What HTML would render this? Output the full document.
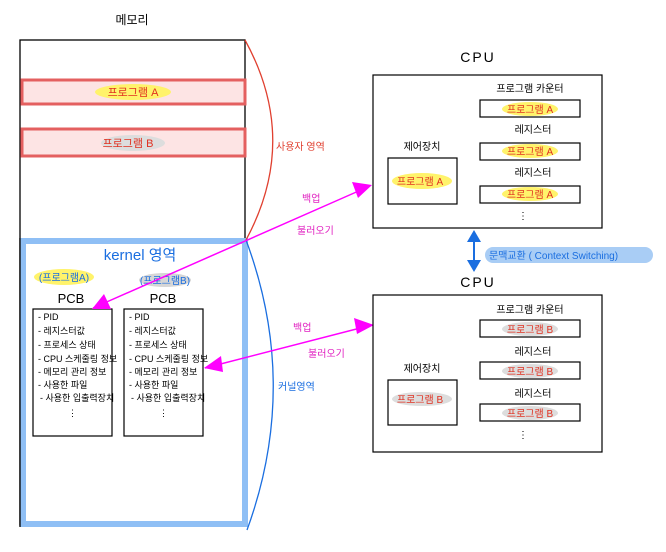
<!DOCTYPE html>
<html><head><meta charset="utf-8"><style>
html,body{margin:0;padding:0;background:#fff;}
svg{display:block;}
text{font-family:"Liberation Sans","Noto Sans CJK KR",sans-serif;}
</style></head><body>
<svg width="666" height="552" viewBox="0 0 666 552" xmlns="http://www.w3.org/2000/svg">
<rect width="666" height="552" fill="#fff"/>
<text x="132" y="24" font-size="12" text-anchor="middle">메모리</text>
<rect x="20" y="40" width="225" height="485" fill="none" stroke="#000" stroke-width="1.3"/>
<rect x="22" y="80" width="223" height="24" fill="#fde4e4" stroke="#e46060" stroke-width="3"/>
<ellipse cx="133" cy="92" rx="38" ry="8" fill="#fff36b"/>
<text x="133" y="96" font-size="11" fill="#e03020" text-anchor="middle">프로그램 A</text>
<rect x="22" y="129" width="223" height="27" fill="#fde4e4" stroke="#e46060" stroke-width="3"/>
<ellipse cx="133" cy="143" rx="32" ry="8" fill="#ddd"/>
<text x="128" y="147" font-size="11" fill="#e03020" text-anchor="middle">프로그램 B</text>
<rect x="23" y="241" width="222" height="283" fill="#fff" stroke="#8fbff5" stroke-width="6"/>
<line x1="20" y1="238" x2="20" y2="527" stroke="#000" stroke-width="1.3"/>
<text x="140" y="260" font-size="15" fill="#1a6ee0" text-anchor="middle">kernel  영역</text>
<ellipse cx="64" cy="277" rx="30" ry="8" fill="#fff36b"/>
<text x="64" y="281" font-size="10" fill="#1a6ee0" text-anchor="middle">(프로그램A)</text>
<ellipse cx="165" cy="280" rx="26" ry="7" fill="#d6d6d6"/>
<text x="165" y="284" font-size="10" fill="#1a6ee0" text-anchor="middle">(프로그램B)</text>
<text x="71" y="303" font-size="13" text-anchor="middle">PCB</text>
<text x="163" y="303" font-size="13" text-anchor="middle">PCB</text>
<g font-size="9">
<rect x="33" y="309" width="79" height="127" fill="#fff" stroke="#000" stroke-width="1.2"/>
<rect x="124" y="309" width="79" height="127" fill="#fff" stroke="#000" stroke-width="1.2"/>
<g transform="translate(38,0)">
<text x="0" y="320">- PID</text><text x="0" y="334">- 레지스터값</text><text x="0" y="348">- 프로세스 상태</text><text x="0" y="362">- CPU 스케줄링 정보</text><text x="0" y="375">- 메모리 관리 정보</text><text x="0" y="388">- 사용한 파일</text><text x="2" y="401">- 사용한 입출력장치</text><text x="30" y="416">⋮</text>
</g>
<g transform="translate(129,0)">
<text x="0" y="320">- PID</text><text x="0" y="334">- 레지스터값</text><text x="0" y="348">- 프로세스 상태</text><text x="0" y="362">- CPU 스케줄링 정보</text><text x="0" y="375">- 메모리 관리 정보</text><text x="0" y="388">- 사용한 파일</text><text x="2" y="401">- 사용한 입출력장치</text><text x="30" y="416">⋮</text>
</g>
</g>
<path d="M245,40 Q300,140 246,240" fill="none" stroke="#e04030" stroke-width="1.3"/>
<path d="M246,240 Q300,385 247,530" fill="none" stroke="#1a6ee0" stroke-width="1.3"/>
<text x="276" y="150" font-size="10" fill="#e04030">사용자 영역</text>
<text x="278" y="390" font-size="10" fill="#1a6ee0">커널영역</text>
<line x1="93" y1="308" x2="370" y2="186" stroke="#f0f" stroke-width="1.5"/>
<path d="M372,185 L352,182 L358,198 z" fill="#f0f"/>
<path d="M92,309 L104,294 L111,309 z" fill="#f0f"/>
<line x1="205" y1="368" x2="372" y2="325" stroke="#f0f" stroke-width="1.5"/>
<path d="M374,325 L354,318 L357,334 z" fill="#f0f"/>
<path d="M204,368 L221,356 L223,372 z" fill="#f0f"/>
<text x="302" y="202" font-size="10" fill="#e020c0">백업</text>
<text x="297" y="234" font-size="10" fill="#e020c0">불러오기</text>
<text x="293" y="331" font-size="10" fill="#e020c0">백업</text>
<text x="308" y="357" font-size="10" fill="#e020c0">불러오기</text>
<text x="478" y="62" font-size="14" text-anchor="middle" letter-spacing="2">CPU</text>
<rect x="373" y="75" width="229" height="153" fill="#fff" stroke="#000" stroke-width="1.2"/>
<text x="422" y="150" font-size="10" text-anchor="middle">제어장치</text>
<rect x="388" y="158" width="69" height="46" fill="#fff" stroke="#000" stroke-width="1.2"/>
<ellipse cx="422" cy="181" rx="30" ry="8" fill="#fff36b"/>
<text x="420" y="185" font-size="10" fill="#e03020" text-anchor="middle">프로그램 A</text>
<text x="530" y="92" font-size="10" text-anchor="middle">프로그램 카운터</text>
<text x="533" y="133" font-size="10" text-anchor="middle">레지스터</text>
<text x="533" y="176" font-size="10" text-anchor="middle">레지스터</text>
<g font-size="10" fill="#e03020" text-anchor="middle">
<rect x="480" y="100" width="100" height="17" fill="#fff" stroke="#000" stroke-width="1.2"/>
<ellipse cx="530" cy="109" rx="28" ry="7" fill="#fff36b"/><text x="530" y="113">프로그램 A</text>
<rect x="480" y="143" width="100" height="17" fill="#fff" stroke="#000" stroke-width="1.2"/>
<ellipse cx="530" cy="151" rx="28" ry="7" fill="#fff36b"/><text x="530" y="155">프로그램 A</text>
<rect x="480" y="186" width="100" height="17" fill="#fff" stroke="#000" stroke-width="1.2"/>
<ellipse cx="530" cy="194" rx="28" ry="7" fill="#fff36b"/><text x="530" y="198">프로그램 A</text>
</g>
<text x="523" y="219" font-size="10" text-anchor="middle">⋮</text>
<line x1="474" y1="236" x2="474" y2="266" stroke="#1a6ee0" stroke-width="2"/>
<path d="M474,230 L467,242 L481,242 z" fill="#1a6ee0"/>
<path d="M474,272 L467,260 L481,260 z" fill="#1a6ee0"/>
<rect x="485" y="247" width="168" height="16" rx="8" fill="#a9cdf5"/>
<text x="489" y="259" font-size="10" fill="#1a6ee0">문맥교환 ( Context Switching)</text>
<text x="478" y="287" font-size="14" text-anchor="middle" letter-spacing="2">CPU</text>
<rect x="373" y="295" width="229" height="157" fill="#fff" stroke="#000" stroke-width="1.2"/>
<text x="422" y="372" font-size="10" text-anchor="middle">제어장치</text>
<rect x="388" y="380" width="69" height="45" fill="#fff" stroke="#000" stroke-width="1.2"/>
<ellipse cx="422" cy="399" rx="30" ry="7" fill="#ddd"/>
<text x="420" y="403" font-size="10" fill="#e03020" text-anchor="middle">프로그램 B</text>
<text x="530" y="313" font-size="10" text-anchor="middle">프로그램 카운터</text>
<text x="533" y="355" font-size="10" text-anchor="middle">레지스터</text>
<text x="533" y="397" font-size="10" text-anchor="middle">레지스터</text>
<g font-size="10" fill="#e03020" text-anchor="middle">
<rect x="480" y="320" width="100" height="17" fill="#fff" stroke="#000" stroke-width="1.2"/>
<ellipse cx="530" cy="329" rx="28" ry="7" fill="#ddd"/><text x="530" y="333">프로그램 B</text>
<rect x="480" y="362" width="100" height="17" fill="#fff" stroke="#000" stroke-width="1.2"/>
<ellipse cx="530" cy="371" rx="28" ry="7" fill="#ddd"/><text x="530" y="375">프로그램 B</text>
<rect x="480" y="404" width="100" height="17" fill="#fff" stroke="#000" stroke-width="1.2"/>
<ellipse cx="530" cy="413" rx="28" ry="7" fill="#ddd"/><text x="530" y="417">프로그램 B</text>
</g>
<text x="523" y="438" font-size="10" text-anchor="middle">⋮</text>
</svg>
</body></html>
